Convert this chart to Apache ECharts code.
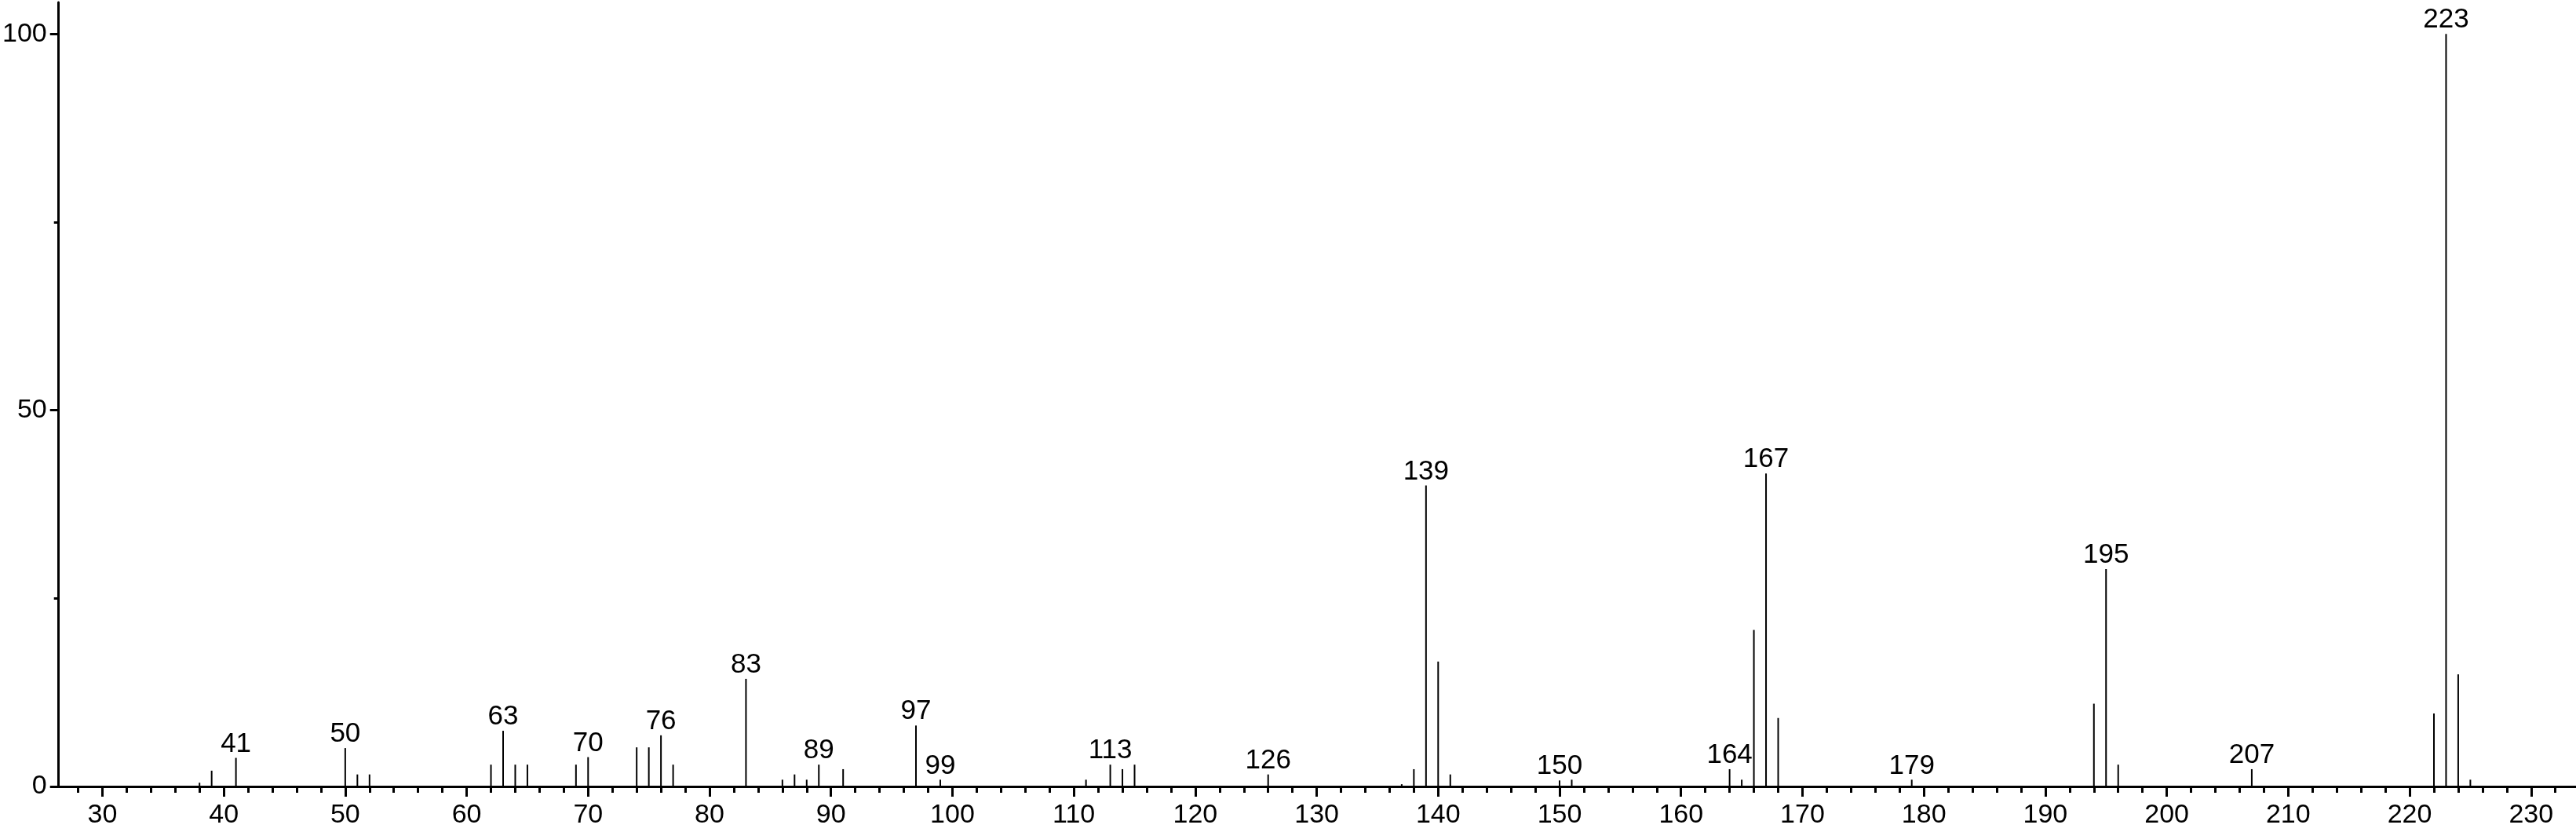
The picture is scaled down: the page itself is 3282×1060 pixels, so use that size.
<!DOCTYPE html>
<html>
<head>
<meta charset="utf-8">
<script src="https://cdn.jsdelivr.net/npm/echarts@6/dist/echarts.min.js"></script>
<style>
  html, body { margin: 0; padding: 0; background: #fff; }
  #chart { width: 3282px; height: 1060px; }
</style>
</head>
<body>
<div id="chart"></div>
<script>
const mz = [38, 39, 41, 50, 51, 52, 62, 63, 64, 65, 69, 70, 74, 75, 76, 77, 83, 86, 87, 88, 89, 91, 97, 99,
  111, 113, 114, 115, 126, 137, 138, 139, 140, 141, 150, 151, 164, 165, 166, 167, 168, 179,
  194, 195, 196, 207, 222, 223, 224, 225]
const intensity = [0.5, 2.1, 3.8, 5.1, 1.6, 1.6, 2.9, 7.4, 2.9, 2.9, 2.9, 3.9, 5.2, 5.2, 6.8, 2.9, 14.3, 0.9, 1.6, 0.9, 2.9, 2.3, 8.1, 0.9,
  0.9, 2.9, 2.3, 2.9, 1.6, 0.3, 2.3, 40.0, 16.6, 1.6, 0.8, 0.9, 2.3, 0.9, 20.8, 41.6, 9.1, 0.9,
  11.0, 28.9, 2.9, 2.3, 9.7, 100, 14.9, 0.9]
const labeledPeaks = [41, 50, 63, 70, 76, 83, 89, 97, 99, 113, 126, 139, 150, 164, 167, 179, 195, 207, 223]

const xMajorTicks = [30, 40, 50, 60, 70, 80, 90, 100, 110, 120, 130, 140, 150, 160, 170, 180, 190, 200, 210, 220, 230]
const xMinorTicks = [28, 32, 34, 36, 38, 42, 44, 46, 48, 52, 54, 56, 58, 62, 64, 66, 68, 72, 74, 76, 78, 82, 84, 86, 88,
  92, 94, 96, 98, 102, 104, 106, 108, 112, 114, 116, 118, 122, 124, 126, 128, 132, 134, 136, 138,
  142, 144, 146, 148, 152, 154, 156, 158, 162, 164, 166, 168, 172, 174, 176, 178, 182, 184, 186, 188,
  192, 194, 196, 198, 202, 204, 206, 208, 212, 214, 216, 218, 222, 224, 226, 228, 232]
const yMajorTicks = [0, 50, 100]
const yMinorTicks = [25, 75]

const font = 'Liberation Sans, Arial, sans-serif'
const chart = echarts.init(document.getElementById('chart'))

const data = mz.map((m, i) => {
  const item = { value: [m, intensity[i]] }
  if (labeledPeaks.includes(m)) {
    item.label = { show: true }
  }
  return item
})

const lineStyle = { color: '#000', width: 3 }

const option = {
  animation: false,
  grid: { left: 69, right: 0, top: 3, bottom: 58 },
  xAxis: [
    {
      type: 'value',
      min: 26.4,
      max: 233.7,
      position: 'bottom',
      axisLine: { show: true, onZero: false, lineStyle },
      axisTick: { show: true, customValues: xMajorTicks, length: 13, lineStyle },
      axisLabel: { customValues: xMajorTicks, color: '#000', fontSize: 34, fontFamily: font, margin: 20 },
      splitLine: { show: false },
    },
    {
      type: 'value',
      min: 26.4,
      max: 233.7,
      position: 'bottom',
      axisLine: { show: false },
      axisTick: { show: true, customValues: xMinorTicks, length: 8, lineStyle },
      axisLabel: { show: false },
      splitLine: { show: false },
    },
  ],
  yAxis: [
    {
      type: 'value',
      min: 0,
      max: 104.2,
      position: 'left',
      axisLine: { show: true, lineStyle },
      axisTick: { show: true, customValues: yMajorTicks, length: 11, lineStyle },
      axisLabel: { customValues: yMajorTicks, color: '#000', fontSize: 34, fontFamily: font, margin: 15 },
      splitLine: { show: false },
    },
    {
      type: 'value',
      min: 0,
      max: 104.2,
      position: 'left',
      axisLine: { show: false },
      axisTick: { show: true, customValues: yMinorTicks, length: 6, lineStyle },
      axisLabel: { show: false },
      splitLine: { show: false },
    },
  ],
  series: [
    {
      type: 'bar',
      xAxisIndex: 0,
      yAxisIndex: 0,
      barWidth: 2,
      itemStyle: { color: '#000' },
      label: {
        show: false,
        position: 'top',
        distance: 0,
        color: '#000',
        fontSize: 35,
        fontFamily: font,
        formatter: (p) => p.value[0],
      },
      data,
    },
  ],
}
chart.setOption(option)
</script>
</body>
</html>
